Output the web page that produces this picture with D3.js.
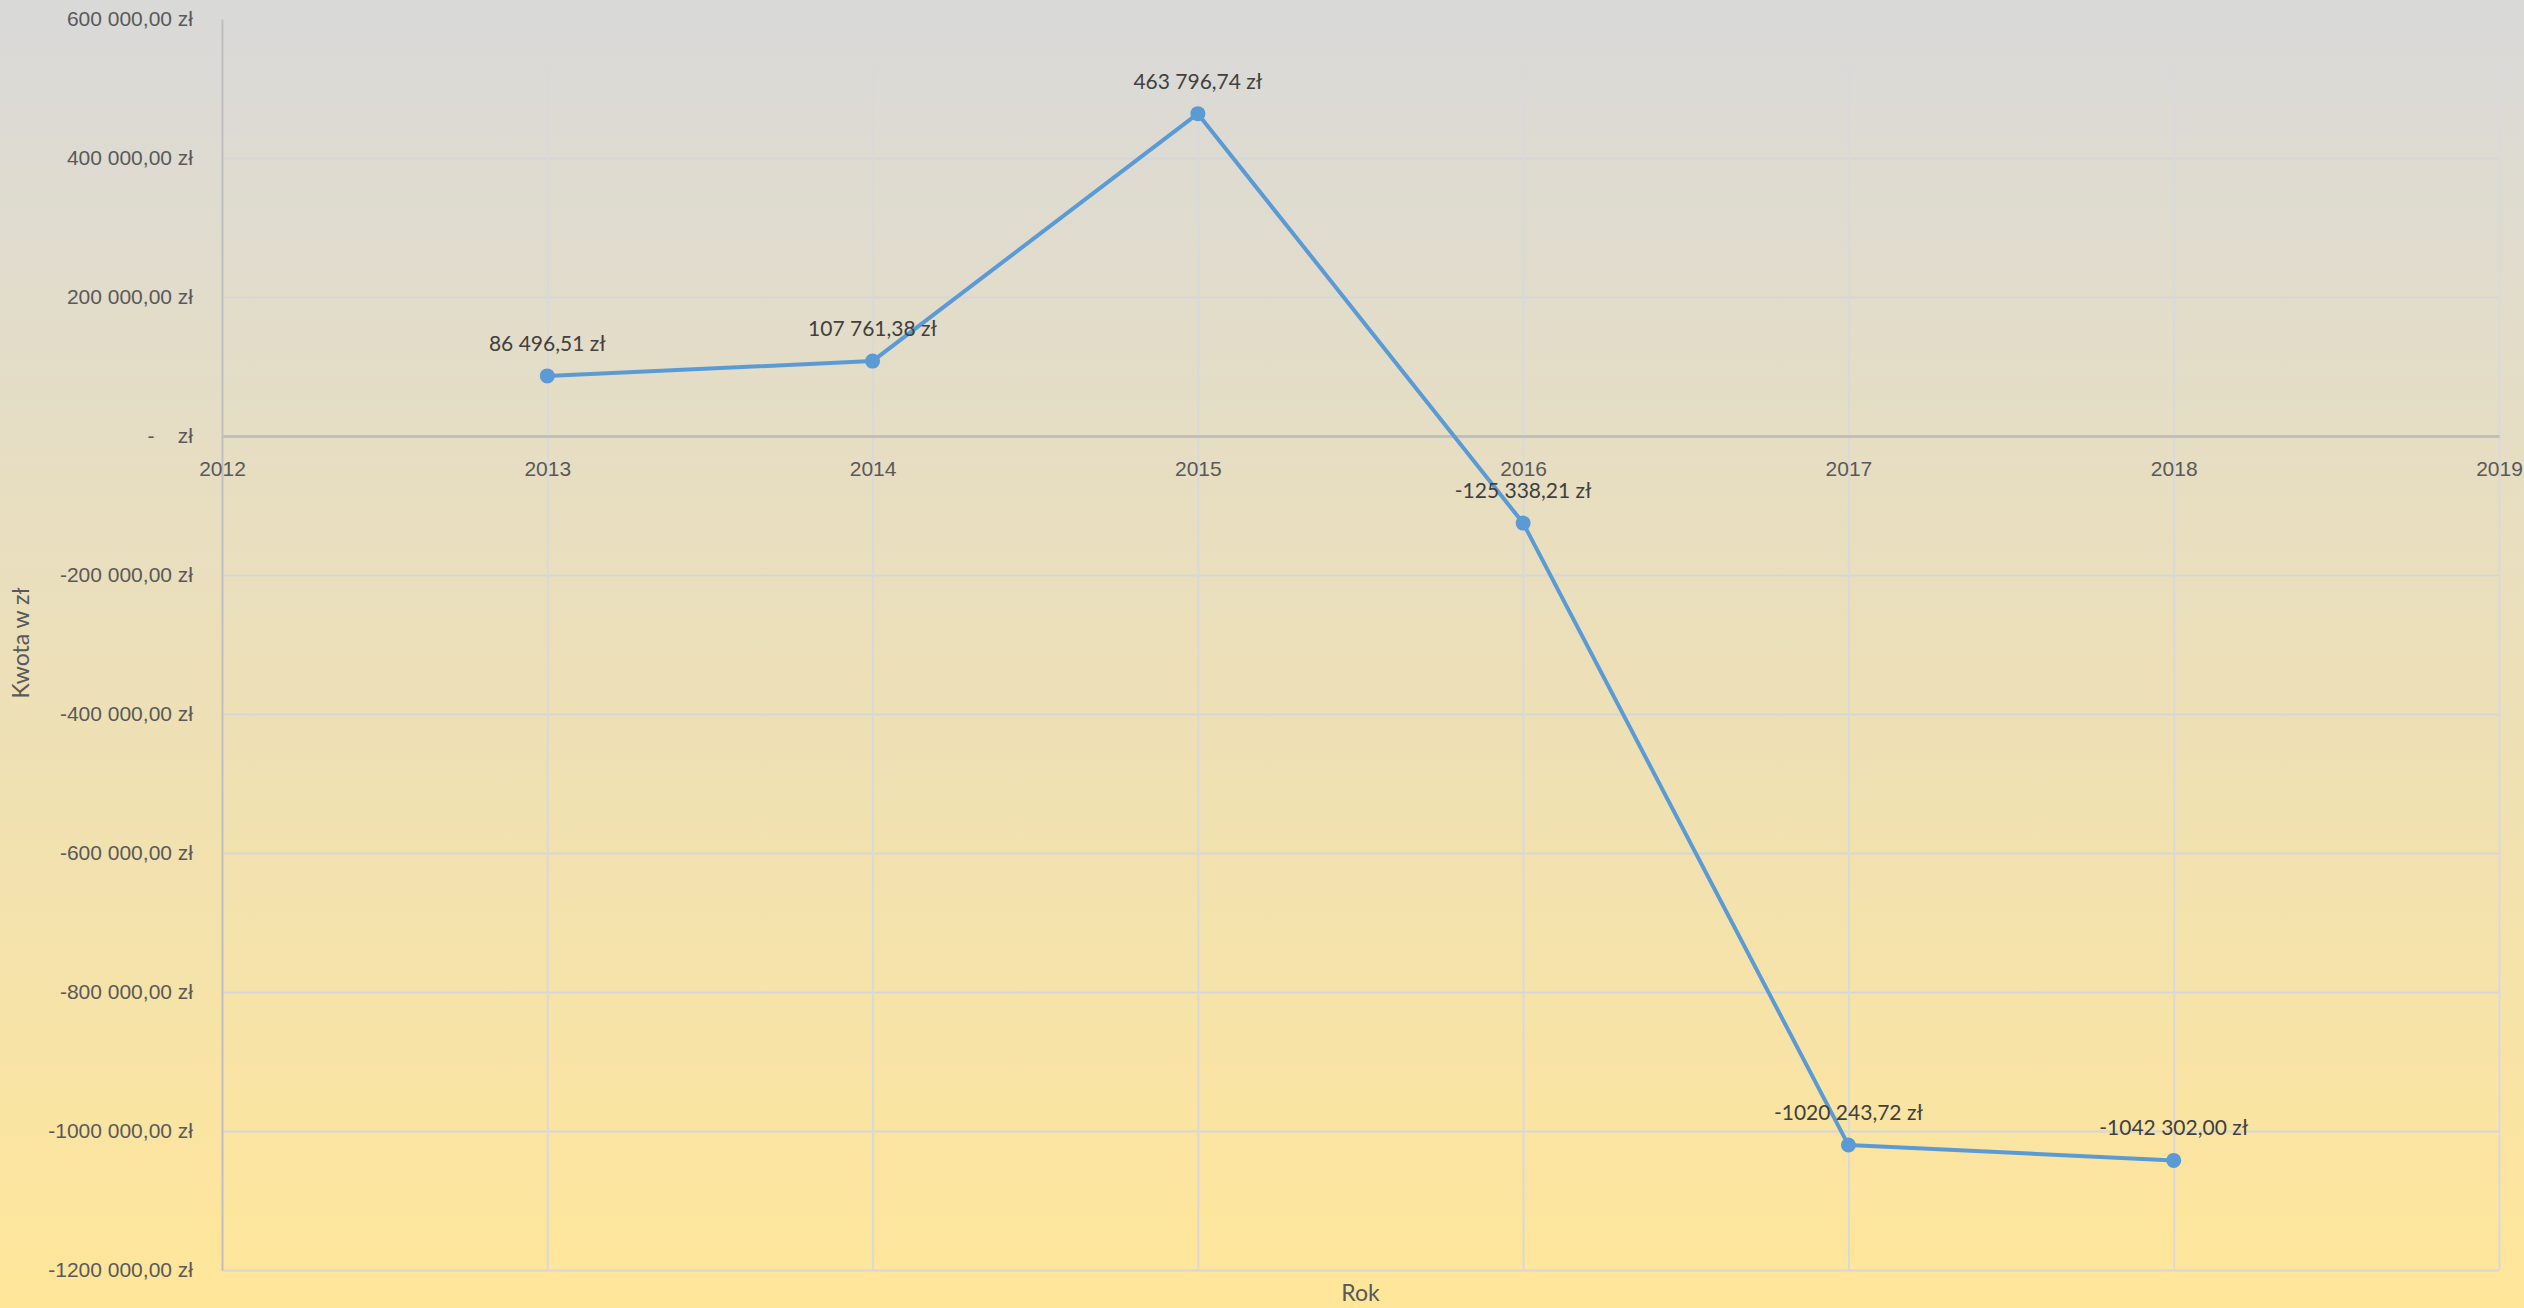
<!DOCTYPE html>
<html>
<head>
<meta charset="utf-8">
<script src="https://cdn.jsdelivr.net/npm/d3@7"></script>
<style>
  body { margin: 0; }
  svg { display: block; font-family: Lato, "Open Sans", sans-serif; }
</style>
</head>
<body>
<svg width="2524" height="1308"></svg>
<script>
// data
var years = [2013, 2014, 2015, 2016, 2017, 2018];
var values = [86496.51, 107761.38, 463796.74, -125338.21, -1020243.72, -1042302.00];
var xTicks = [2012, 2013, 2014, 2015, 2016, 2017, 2018, 2019];
var yTicks = [600000, 400000, 200000, 0, -200000, -400000, -600000, -800000, -1000000, -1200000];

var svg = d3.select("svg"),
    width = +svg.attr("width"),
    height = +svg.attr("height");

// plot edges (note: "top" is reserved on window)
var plotLeft = 222, plotRight = 2499, plotTop = 19, plotBottom = 1270;

// money format like excel: "1020 243,72 zł" (only last group split)
function zl(v) {
  if (v === 0) return "-    zł";
  var neg = v < 0;
  var s = Math.abs(v).toFixed(2).split(".");
  var ip = s[0];
  if (ip.length > 3) ip = ip.slice(0, ip.length - 3) + " " + ip.slice(-3);
  return (neg ? "-" : "") + ip + "," + s[1] + " zł";
}

// background gradient
var defs = svg.append("defs");
var grad = defs.append("linearGradient")
    .attr("id", "bg")
    .attr("gradientUnits", "userSpaceOnUse")
    .attr("x1", 0).attr("y1", 0).attr("x2", 0).attr("y2", height);
grad.append("stop").attr("offset", "0%").attr("stop-color", "#d9d9d9");
grad.append("stop").attr("offset", "100%").attr("stop-color", "#ffe699");

svg.append("rect")
    .attr("width", width).attr("height", height)
    .attr("fill", "url(#bg)");

var x = d3.scaleLinear().domain([2012, 2019]).range([plotLeft, plotRight]);
var y = d3.scaleLinear().domain([-1200000, 600000]).range([plotBottom, plotTop]);

// grid
svg.append("g")
    .attr("transform", "translate(" + plotLeft + ",0)")
    .call(d3.axisLeft(y).tickValues(yTicks.filter(function(d){ return d !== 0; })).tickSize(-(plotRight - plotLeft)).tickFormat(""))
    .call(function(g){ g.select(".domain").remove(); })
    .selectAll("line").attr("stroke", "#d6d6d6").attr("stroke-width", 2);

svg.append("g")
    .attr("transform", "translate(0," + plotBottom + ")")
    .call(d3.axisBottom(x).tickValues(xTicks.slice(1)).tickSize(-(plotBottom - 66)).tickFormat(""))
    .call(function(g){ g.select(".domain").remove(); })
    .selectAll("line").attr("stroke", "#d9d9d9").attr("stroke-width", 2);

// title box covers top of the plot (title itself is cut off)
svg.append("rect")
    .attr("x", plotLeft + 1).attr("y", 0)
    .attr("width", width - plotLeft).attr("height", 66)
    .attr("fill", "url(#bg)");

// y axis
var yAxis = svg.append("g")
    .attr("transform", "translate(" + plotLeft + ",0)")
    .call(d3.axisLeft(y).tickValues(yTicks).tickSize(0).tickPadding(29).tickFormat(zl));
yAxis.select(".domain").attr("stroke", "#bfbfbf").attr("stroke-width", 2);
yAxis.selectAll("text")
    .attr("fill", "#595959")
    .style("font-size", "21px")
    .style("white-space", "pre");

// x axis on zero line
var xAxis = svg.append("g")
    .attr("transform", "translate(0," + y(0) + ")")
    .call(d3.axisBottom(x).tickValues(xTicks).tickSize(0).tickPadding(25).tickFormat(d3.format("d")));
xAxis.select(".domain").attr("stroke", "#bfbfbf").attr("stroke-width", 3);
xAxis.selectAll("text")
    .attr("fill", "#595959")
    .style("font-size", "21px");

// axis titles
svg.append("text")
    .attr("transform", "translate(29,643) rotate(-90)")
    .attr("text-anchor", "middle")
    .attr("fill", "#595959")
    .style("font-size", "23px")
    .text("Kwota w zł");

svg.append("text")
    .attr("x", (plotLeft + plotRight) / 2).attr("y", 1301)
    .attr("text-anchor", "middle")
    .attr("fill", "#595959")
    .style("font-size", "23px")
    .text("Rok");

// line
var line = d3.line()
    .x(function(d, i){ return x(years[i]); })
    .y(function(d){ return y(d); });

svg.append("path")
    .datum(values)
    .attr("fill", "none")
    .attr("stroke", "#5b9bd5")
    .attr("stroke-width", 4)
    .attr("stroke-linejoin", "round")
    .attr("d", line);

svg.append("g")
    .selectAll("circle")
    .data(values)
    .enter()
    .append("circle")
      .attr("cx", function(d, i){ return x(years[i]); })
      .attr("cy", function(d){ return y(d); })
      .attr("r", 7.5)
      .attr("fill", "#5b9bd5");

svg.append("g")
    .selectAll("text")
    .data(values)
    .enter()
    .append("text")
      .attr("x", function(d, i){ return x(years[i]); })
      .attr("y", function(d){ return y(d) - 25; })
      .attr("text-anchor", "middle")
      .attr("fill", "#404040")
      .style("font-size", "21px")
      .text(zl);
</script>
</body>
</html>
